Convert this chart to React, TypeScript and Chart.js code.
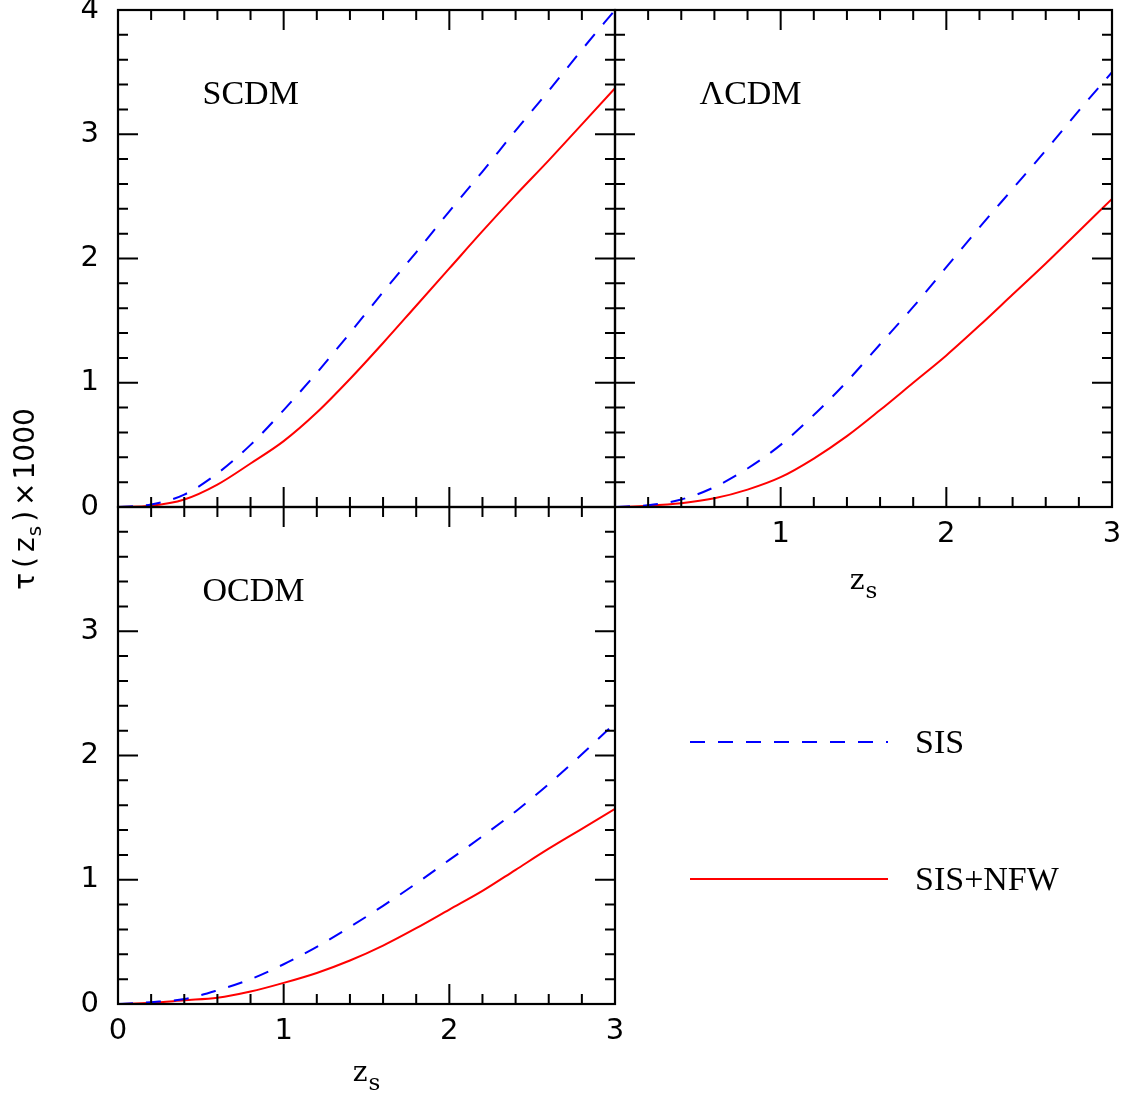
import React, { useEffect, useRef } from "react";
import { Chart, registerables } from "chart.js";

Chart.register(...registerables);

// ---------- data ----------
const Z_S = [0, 0.2, 0.4, 0.6, 0.8, 1.0, 1.2, 1.4, 1.6, 1.8, 2.0, 2.2, 2.4, 2.6, 2.8, 3.0];

const SCDM_SIS = [0, 0.02, 0.1, 0.27, 0.5, 0.78, 1.08, 1.4, 1.73, 2.05, 2.38, 2.7, 3.03, 3.35, 3.68, 4.0];
const SCDM_NFW = [0, 0.01, 0.06, 0.18, 0.35, 0.53, 0.76, 1.03, 1.32, 1.62, 1.92, 2.22, 2.51, 2.79, 3.08, 3.37];

const LCDM_SIS = [0, 0.015, 0.06, 0.16, 0.31, 0.5, 0.74, 1.01, 1.31, 1.61, 1.93, 2.25, 2.56, 2.87, 3.19, 3.5];
const LCDM_NFW = [0, 0.01, 0.03, 0.07, 0.14, 0.24, 0.39, 0.57, 0.78, 1.0, 1.22, 1.46, 1.71, 1.96, 2.22, 2.48];

const OCDM_SIS = [0, 0.015, 0.04, 0.11, 0.2, 0.32, 0.46, 0.62, 0.79, 0.97, 1.16, 1.35, 1.55, 1.77, 2.01, 2.26];
const OCDM_NFW = [0, 0.01, 0.03, 0.05, 0.1, 0.17, 0.25, 0.35, 0.47, 0.61, 0.76, 0.91, 1.08, 1.25, 1.41, 1.57];

const SERIES_NAMES = ["SIS", "SIS+NFW"];
const PANEL_NAMES = ["SCDM", "\u039BCDM", "OCDM"];
const X_RANGE = [0, 3];
const Y_RANGE = [0, 4];
const LABEL_AT = [0.51, 3.24];

// ---------- layout / style ----------
const W = 1127;
const H = 1094;
const YW = 60;
const XH = 50;
const TICK_FONT = { family: "DejaVu Sans", size: 29 };
const SERIF = '"Liberation Serif", "Times New Roman", serif';
const SERIF2 = '"DejaVu Serif", serif';
const SANS = '"DejaVu Sans", sans-serif';
const MINOR_STEP = 0.2;
const MAJOR_LEN = 20;
const MINOR_LEN = 10;

type PanelCfg = {
  name: string;
  sis: number[];
  nfw: number[];
  left: number;
  top: number;
  right: number;
  bottom: number;
  showY: boolean;
  hideYTop: boolean;
  showX: boolean;
  hideX0: boolean;
  xTitleDrop: number;
  yTitle: boolean;
  legend: boolean;
};

const PANELS: PanelCfg[] = [
  { name: PANEL_NAMES[0], sis: SCDM_SIS, nfw: SCDM_NFW, left: 118, top: 10, right: 615, bottom: 507,
    showY: true, hideYTop: false, showX: false, hideX0: false, xTitleDrop: 0, yTitle: true, legend: false },
  { name: PANEL_NAMES[1], sis: LCDM_SIS, nfw: LCDM_NFW, left: 615, top: 10, right: 1112, bottom: 507,
    showY: false, hideYTop: false, showX: true, hideX0: true, xTitleDrop: 82, yTitle: false, legend: false },
  { name: PANEL_NAMES[2], sis: OCDM_SIS, nfw: OCDM_NFW, left: 118, top: 507, right: 615, bottom: 1004,
    showY: true, hideYTop: true, showX: true, hideX0: false, xTitleDrop: 77, yTitle: false, legend: true },
];

type Piece = { t: string; font: string; dy?: number; gap?: number };

function drawRich(ctx: CanvasRenderingContext2D, pieces: Piece[], cx: number, baseY: number) {
  let total = 0;
  const widths = pieces.map((p) => {
    ctx.font = p.font;
    const w = ctx.measureText(p.t).width;
    total += w + (p.gap || 0);
    return w;
  });
  let x = cx - total / 2;
  ctx.textAlign = "left";
  ctx.textBaseline = "alphabetic";
  pieces.forEach((p, i) => {
    ctx.font = p.font;
    ctx.fillText(p.t, x, baseY + (p.dy || 0));
    x += widths[i] + (p.gap || 0);
  });
}

const decorPlugin = {
  id: "decor",
  afterDatasetsDraw(chart: any, _args: any, opts: any) {
    const { ctx, chartArea: a, scales } = chart;
    const xs = scales.x;
    const ys = scales.y;
    ctx.save();
    ctx.strokeStyle = "#000";
    ctx.fillStyle = "#000";
    ctx.setLineDash([]);
    // ticks on all four sides, pointing inward
    ctx.lineWidth = 2;
    ctx.beginPath();
    const nx = Math.round((xs.max - xs.min) / MINOR_STEP);
    for (let k = 1; k < nx; k++) {
      const px = xs.getPixelForValue(xs.min + k * MINOR_STEP);
      const len = k % 5 === 0 ? MAJOR_LEN : MINOR_LEN;
      ctx.moveTo(px, a.bottom);
      ctx.lineTo(px, a.bottom - len);
      ctx.moveTo(px, a.top);
      ctx.lineTo(px, a.top + len);
    }
    const ny = Math.round((ys.max - ys.min) / MINOR_STEP);
    for (let k = 1; k < ny; k++) {
      const py = ys.getPixelForValue(ys.min + k * MINOR_STEP);
      const len = k % 5 === 0 ? MAJOR_LEN : MINOR_LEN;
      ctx.moveTo(a.left, py);
      ctx.lineTo(a.left + len, py);
      ctx.moveTo(a.right, py);
      ctx.lineTo(a.right - len, py);
    }
    ctx.stroke();
    // frame
    ctx.lineWidth = 2.2;
    ctx.strokeRect(a.left, a.top, a.right - a.left, a.bottom - a.top);

    // panel label
    ctx.font = `34px ${SERIF}`;
    ctx.textAlign = "left";
    ctx.textBaseline = "alphabetic";
    ctx.fillText(opts.name, xs.getPixelForValue(LABEL_AT[0]), ys.getPixelForValue(LABEL_AT[1]));

    // x-axis title z_s
    if (opts.xTitleDrop) {
      drawRich(
        ctx,
        [
          { t: "z", font: `28px ${SERIF2}`, gap: 1 },
          { t: "s", font: `23px ${SERIF2}`, dy: 9 },
        ],
        (a.left + a.right) / 2,
        a.bottom + opts.xTitleDrop
      );
    }

    // y-axis title tau(z_s) x 1000
    if (opts.yTitle) {
      ctx.save();
      ctx.translate(34, a.bottom - 8);
      ctx.rotate(-Math.PI / 2);
      const f = `28px ${SANS}`;
      drawRich(
        ctx,
        [
          { t: "\u03C4", font: f, gap: 5 },
          { t: "(", font: f, gap: 5 },
          { t: "z", font: f, gap: 1 },
          { t: "s", font: `20px ${SANS}`, dy: 7, gap: 4 },
          { t: ")", font: f, gap: 5 },
          { t: "\u00D7", font: f, gap: 3 },
          { t: "1000", font: f },
        ],
        0,
        0
      );
      ctx.restore();
    }

    // legend (drawn from the datasets' own styles)
    if (opts.legend) {
      const rows = [235, 372];
      chart.data.datasets.forEach((ds: any, i: number) => {
        const yy = a.top + rows[i];
        ctx.strokeStyle = ds.borderColor;
        ctx.lineWidth = ds.borderWidth;
        ctx.setLineDash(ds.borderDash || []);
        ctx.beginPath();
        ctx.moveTo(a.right + 75, yy);
        ctx.lineTo(a.right + 273, yy);
        ctx.stroke();
        ctx.setLineDash([]);
        ctx.fillStyle = "#000";
        ctx.font = `34px ${SERIF}`;
        ctx.textAlign = "left";
        ctx.textBaseline = "alphabetic";
        ctx.fillText(ds.label, a.right + 300, yy + 11);
      });
    }
    ctx.restore();
  },
};

function makeConfig(p: PanelCfg): any {
  const xDisplayed = p.showX;
  const yDisplayed = p.showY;
  const padLeft = p.left - (yDisplayed ? YW : 0);
  const padBottom = H - p.bottom - (xDisplayed ? XH : 0);
  return {
    type: "line",
    data: {
      datasets: [
        {
          label: SERIES_NAMES[0],
          data: Z_S.map((z, i) => ({ x: z, y: p.sis[i] })),
          borderColor: "#0000ff",
          borderWidth: 2,
          borderDash: [15, 13],
          pointRadius: 0,
          fill: false,
          cubicInterpolationMode: "monotone",
        },
        {
          label: SERIES_NAMES[1],
          data: Z_S.map((z, i) => ({ x: z, y: p.nfw[i] })),
          borderColor: "#ff0000",
          borderWidth: 2,
          pointRadius: 0,
          fill: false,
          cubicInterpolationMode: "monotone",
        },
      ],
    },
    options: {
      responsive: false,
      maintainAspectRatio: false,
      animation: false,
      events: [],
      layout: {
        padding: { left: padLeft, top: p.top, right: W - p.right, bottom: padBottom },
      },
      plugins: {
        legend: { display: false },
        tooltip: { enabled: false },
        decor: {
          name: p.name,
          xTitleDrop: p.xTitleDrop,
          yTitle: p.yTitle,
          legend: p.legend,
        },
      },
      scales: {
        x: {
          type: "linear",
          min: X_RANGE[0],
          max: X_RANGE[1],
          display: xDisplayed,
          grid: { display: false, drawTicks: false },
          border: { display: false },
          ticks: {
            stepSize: 1,
            color: "#000",
            font: TICK_FONT,
            padding: 10,
            maxRotation: 0,
            autoSkip: false,
            callback: (v: number) => (p.hideX0 && v === 0 ? "" : String(v)),
          },
          afterFit: (s: any) => {
            s.height = xDisplayed ? XH : 0;
            s.paddingLeft = 0;
            s.paddingRight = 0;
            s.paddingTop = 0;
            s.paddingBottom = 0;
          },
        },
        y: {
          type: "linear",
          min: Y_RANGE[0],
          max: Y_RANGE[1],
          display: yDisplayed,
          grid: { display: false, drawTicks: false },
          border: { display: false },
          ticks: {
            stepSize: 1,
            color: "#000",
            font: TICK_FONT,
            padding: 19,
            autoSkip: false,
            callback: (v: number) => (p.hideYTop && v === Y_RANGE[1] ? "" : String(v)),
          },
          afterFit: (s: any) => {
            s.width = yDisplayed ? YW : 0;
            s.paddingTop = 0;
            s.paddingBottom = 0;
            s.paddingLeft = 0;
            s.paddingRight = 0;
          },
        },
      },
    },
    plugins: [decorPlugin],
  };
}

function Panel({ cfg }: { cfg: PanelCfg }) {
  const ref = useRef<HTMLCanvasElement>(null);
  useEffect(() => {
    if (!ref.current) return;
    const chart = new Chart(ref.current, makeConfig(cfg));
    return () => chart.destroy();
  }, [cfg]);
  return (
    <canvas
      ref={ref}
      width={W}
      height={H}
      style={{ position: "absolute", left: 0, top: 0, width: W, height: H }}
    />
  );
}

export default function App() {
  return (
    <div style={{ position: "absolute", left: 0, top: 0, width: W, height: H, background: "#fff", overflow: "hidden" }}>
      {PANELS.map((p) => (
        <Panel key={p.name} cfg={p} />
      ))}
    </div>
  );
}
